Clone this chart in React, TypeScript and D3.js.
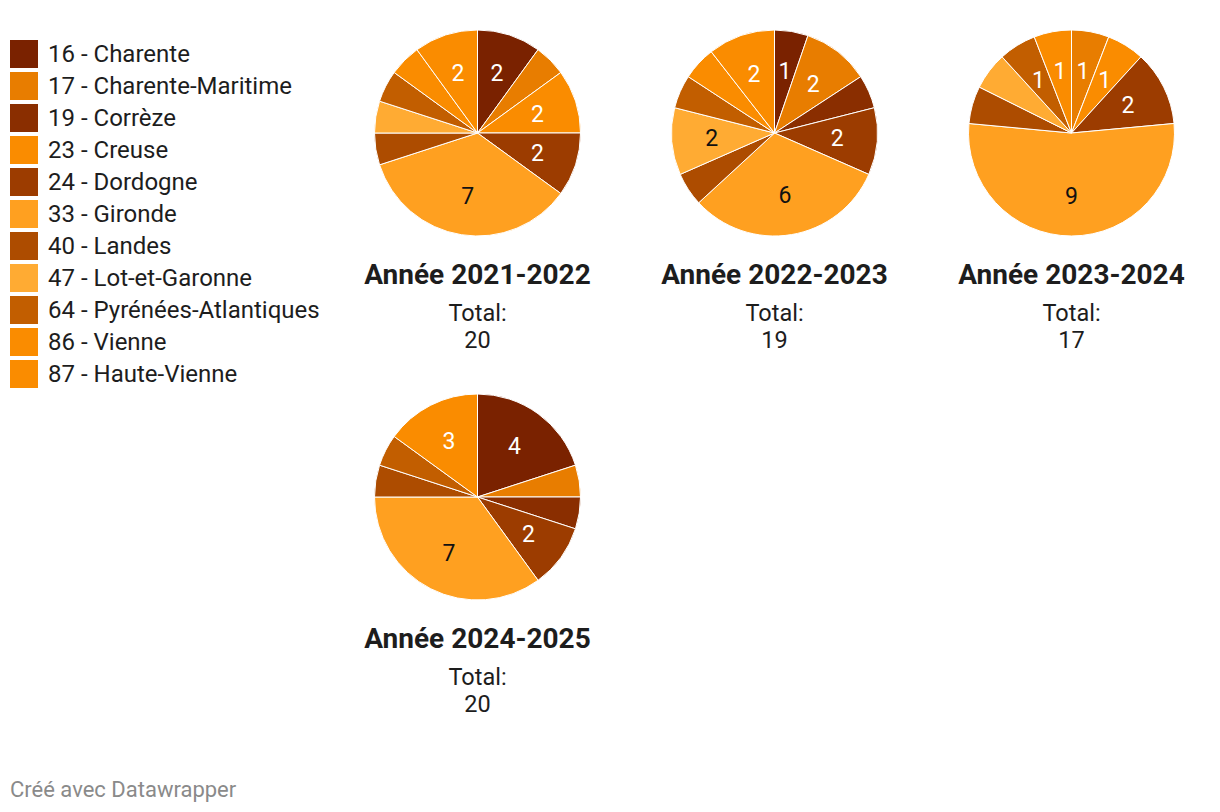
import * as d3 from "d3";

const departements = [
  "16 - Charente",
  "17 - Charente-Maritime",
  "19 - Corrèze",
  "23 - Creuse",
  "24 - Dordogne",
  "33 - Gironde",
  "40 - Landes",
  "47 - Lot-et-Garonne",
  "64 - Pyrénées-Atlantiques",
  "86 - Vienne",
  "87 - Haute-Vienne",
];

const couleurs = [
  "#7a2200",
  "#e87d00",
  "#8a2e00",
  "#fa8c00",
  "#9c3c00",
  "#ffa020",
  "#ad4c00",
  "#ffab33",
  "#c25e00",
  "#fa8c00",
  "#fa8c00",
];

const annees = ["Année 2021-2022", "Année 2022-2023", "Année 2023-2024", "Année 2024-2025"];

// one value per département, same order as above
const v2021 = [2, 1, 0, 2, 2, 7, 1, 1, 1, 1, 2];
const v2022 = [1, 2, 1, 0, 2, 6, 1, 2, 1, 1, 2];
const v2023 = [0, 1, 0, 1, 2, 9, 1, 1, 1, 0, 1];
const v2024 = [4, 1, 1, 0, 2, 7, 1, 0, 1, 0, 3];
const series = [v2021, v2022, v2023, v2024];

const W = 1220;
const H = 812;
const R = 103;
const LABEL_R = 63;
const FONT = "Roboto, 'Noto Sans', sans-serif";
const INK = "#1d1d1d";

// pie grid: 3 columns, rows of 364px
const col = d3.scalePoint<number>().domain([0, 1, 2]).range([477.5, 1071.5]);
const row = d3.scalePoint<number>().domain([0, 1]).range([133, 497]);

// half extents of a one-digit label box
const HW = 6;
const HH = 10.2;

function fits(a0: number, a1: number) {
  const alpha = (a1 - a0) / 2;
  const dist = LABEL_R * Math.sin(alpha);
  return [a0, a1].every((phi) => HW * Math.abs(Math.cos(phi)) + HH * Math.abs(Math.sin(phi)) <= dist);
}

function labelFill(c: string) {
  const { r, g, b } = d3.rgb(c);
  const lin = (v: number) => {
    const s = v / 255;
    return s <= 0.03928 ? s / 12.92 : Math.pow((s + 0.055) / 1.055, 2.4);
  };
  const L = 0.2126 * lin(r) + 0.7152 * lin(g) + 0.0722 * lin(b);
  return L > 0.43 ? "#111" : "#fff";
}

function Pie({ values, title, cx, cy }: { values: number[]; title: string; cx: number; cy: number }) {
  const pie = d3.pie<number>().sort(null).value((d) => d);
  const arcs = pie(values);
  const arc = d3.arc<d3.PieArcDatum<number>>().innerRadius(0).outerRadius(R);
  const labelArc = d3.arc<d3.PieArcDatum<number>>().innerRadius(LABEL_R).outerRadius(LABEL_R);
  const total = d3.sum(values);
  return (
    <g>
      <g transform={`translate(${cx},${cy})`}>
        {arcs.map((a, i) =>
          a.value > 0 ? (
            <path key={i} d={arc(a) ?? ""} fill={couleurs[i]} stroke="#fff" strokeWidth={1} strokeLinejoin="round" />
          ) : null
        )}
        {arcs.map((a, i) => {
          if (a.value <= 0 || !fits(a.startAngle, a.endAngle)) return null;
          const [lx, ly] = labelArc.centroid(a);
          return (
            <text key={i} x={lx} y={ly} dy="0.36em" textAnchor="middle" fontSize={23} fill={labelFill(couleurs[i])}>
              {a.value}
            </text>
          );
        })}
      </g>
      <text x={cx} y={cy + 151} textAnchor="middle" fontSize={28} fontWeight={700} fill={INK}>
        {title}
      </text>
      <text x={cx} y={cy + 187.5} textAnchor="middle" fontSize={23.5} fill={INK}>
        Total:
      </text>
      <text x={cx} y={cy + 214.5} textAnchor="middle" fontSize={23.5} fill={INK}>
        {total}
      </text>
    </g>
  );
}

export default function App() {
  const legendY = d3.scaleBand<number>().domain(d3.range(departements.length)).range([40, 40 + 32 * departements.length]);
  return (
    <svg
      width={W}
      height={H}
      style={{ position: "absolute", left: 0, top: 0, background: "#fff", fontFamily: FONT }}
    >
      {departements.map((d, i) => (
        <g key={d} transform={`translate(10,${legendY(i)})`}>
          <rect width={28} height={28} fill={couleurs[i]} />
          <text x={38} y={14} dy="0.35em" fontSize={24} fill={INK}>
            {d}
          </text>
        </g>
      ))}
      {series.map((vals, i) => (
        <Pie key={annees[i]} values={vals} title={annees[i]} cx={col(i % 3)!} cy={row(Math.floor(i / 3))!} />
      ))}
      <text x={10} y={797} fontSize={22} fill="#8a8a8a">
        Créé avec Datawrapper
      </text>
    </svg>
  );
}
